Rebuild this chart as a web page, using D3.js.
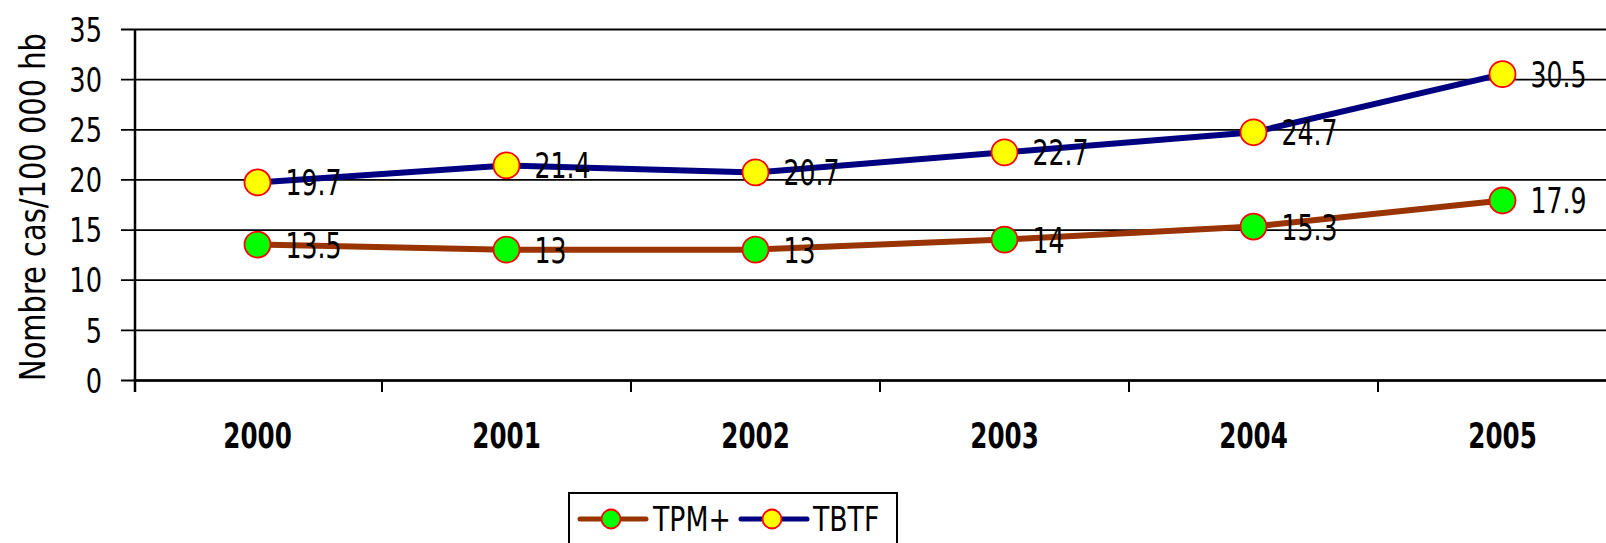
<!DOCTYPE html>
<html>
<head>
<meta charset="utf-8">
<script src="https://cdn.jsdelivr.net/npm/d3@7"></script>
<style>
body{margin:0;background:#fff}
svg{display:block}
text{font-family:"Liberation Sans Narrow","Arial Narrow","DejaVu Sans Condensed",sans-serif;fill:#000}
</style>
</head>
<body>
<svg></svg>
<script>
// data
var years = ["2000","2001","2002","2003","2004","2005"]
var tpm = [13.5,13,13,14,15.3,17.9]
var tbtf = [19.7,21.4,20.7,22.7,24.7,30.5]
var yTicks = [0,5,10,15,20,25,30,35]
var seriesNames = ["TPM+","TBTF"]
var yTitle = "Nombre cas/100 000 hb"

var screen = {width:1606,height:543}
var margins = {left:133,top:29}
var graph = {width:1494,height:351}
// the font here is wider than the original narrow one, squeeze it
var squeeze = 0.8

var svg = d3.select("svg")
    .attr("width",screen.width)
    .attr("height",screen.height)

var xScale = d3.scaleBand()
    .domain(years)
    .range([margins.left,margins.left+graph.width])

var yScale = d3.scaleLinear()
    .domain([0,35])
    .range([margins.top+graph.height,margins.top])

var cx = function(d,i){return xScale(years[i])+xScale.bandwidth()/2}

// gridlines + y labels
var yAxis = d3.axisLeft(yScale)
    .tickValues(yTicks)
    .tickSize(-(graph.width+12))
svg.append("g")
    .attr("transform","translate("+margins.left+",0)")
    .call(yAxis)
    .call(function(g){
        g.select(".domain").remove()
        g.selectAll(".tick line")
            .attr("x1",-12)
            .attr("x2",graph.width)
            .attr("stroke","#000")
            .attr("stroke-width",1.8)
        g.selectAll(".tick text")
            .attr("x",-31/0.84)
            .attr("transform","scale(0.84,1)")
            .style("font-size","34px")
            .attr("dy","0.36em")
    })

// vertical axis
svg.append("line")
    .attr("x1",135).attr("x2",135)
    .attr("y1",yScale(35)).attr("y2",yScale(0)+12)
    .attr("stroke","#000").attr("stroke-width",2.5)

// y title, squeezed to the length it has in the original
var title = svg.append("text")
    .attr("text-anchor","middle")
    .style("font-size","36px")
    .text(yTitle)
var titleScale = 348/title.node().getComputedTextLength()
title.attr("transform","translate(45,207) rotate(-90) scale("+titleScale+",1)")

// x axis
var xAxis = d3.axisBottom(xScale).tickSize(0).tickPadding(0)
var xg = svg.append("g")
    .attr("transform","translate(0,"+yScale(0)+")")
    .call(xAxis)
xg.select(".domain").attr("stroke","#000").attr("stroke-width",2.5)
xg.selectAll(".tick text")
    .attr("y",68)
    .attr("dy",0)
    .attr("transform","scale(0.76,1)")
    .style("font-size","36px")
    .style("font-weight","bold")
xg.selectAll(".sep")
    .data(years.slice(1))
    .enter()
    .append("line")
    .attr("x1",function(d){return xScale(d)})
    .attr("x2",function(d){return xScale(d)})
    .attr("y1",0).attr("y2",12)
    .attr("stroke","#000").attr("stroke-width",2)

var lineGenerator = d3.line()
    .x(cx)
    .y(function(d){return yScale(d)})

var drawSeries = function(values,color,fill)
{
    svg.append("path")
        .datum(values)
        .attr("d",lineGenerator)
        .attr("fill","none")
        .attr("stroke",color)
        .attr("stroke-width",6)
    svg.append("g")
        .selectAll("circle")
        .data(values)
        .enter()
        .append("circle")
        .attr("cx",cx)
        .attr("cy",function(d){return yScale(d)})
        .attr("r",13)
        .attr("fill",fill)
        .attr("stroke","#ff0000")
        .attr("stroke-width",1.8)
    svg.append("g")
        .selectAll("text")
        .data(values)
        .enter()
        .append("text")
        .attr("transform",function(d,i){
            return "translate("+(cx(d,i)+28)+","+(yScale(d)+13)+") scale("+squeeze+",1)"})
        .style("font-size","35px")
        .text(function(d){return d})
}
drawSeries(tpm,"#993300","#00ff00")
drawSeries(tbtf,"#000080","#ffff00")

// legend
var legend = svg.append("g")
legend.append("rect")
    .attr("x",569).attr("y",493)
    .attr("width",328).attr("height",70)
    .attr("fill","#fff")
    .attr("stroke","#000").attr("stroke-width",2)
var legendItems = [
    {name:seriesNames[0],color:"#993300",fill:"#00ff00",x:580,tx:653},
    {name:seriesNames[1],color:"#000080",fill:"#ffff00",x:741,tx:813}
]
legendItems.forEach(function(it){
    legend.append("line")
        .attr("x1",it.x).attr("x2",it.x+66)
        .attr("y1",519).attr("y2",519)
        .attr("stroke",it.color).attr("stroke-width",5)
        .attr("stroke-linecap","round")
    legend.append("circle")
        .attr("cx",it.x+31).attr("cy",519).attr("r",9.5)
        .attr("fill",it.fill)
        .attr("stroke","#ff0000").attr("stroke-width",1.8)
    legend.append("text")
        .attr("transform","translate("+it.tx+",531) scale(0.9,1)")
        .style("font-size","33px")
        .text(it.name)
})
</script>
</body>
</html>
